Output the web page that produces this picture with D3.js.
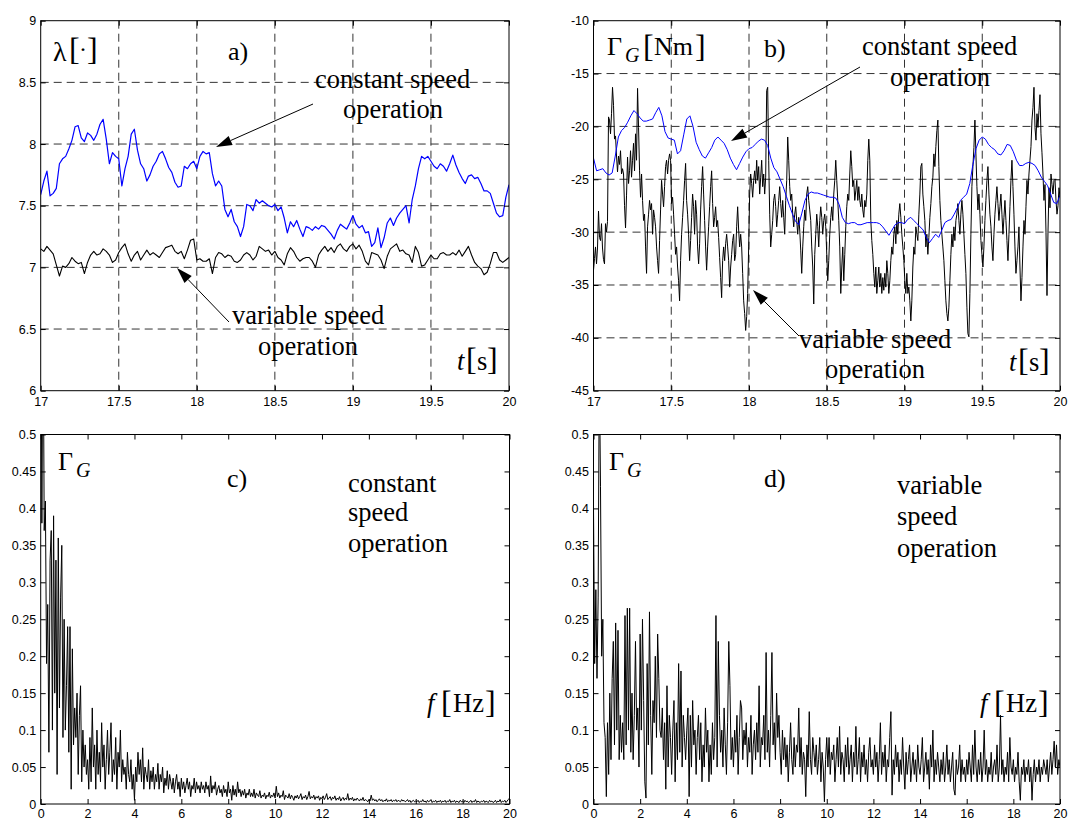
<!DOCTYPE html>
<html>
<head>
<meta charset="utf-8">
<script src="https://cdn.jsdelivr.net/npm/d3@7"></script>
<style>
  body { margin: 0; background: #fff; }
  svg { display: block; }
</style>
</head>
<body>
<svg id="fig" width="1070" height="821"></svg>
<script>
// ---- tick values ----
var tTicks = [17, 17.5, 18, 18.5, 19, 19.5, 20];
var lamTicks = [6, 6.5, 7, 7.5, 8, 8.5, 9];
var torqTicks = [-45, -40, -35, -30, -25, -20, -15, -10];
var fTicks = [0, 2, 4, 6, 8, 10, 12, 14, 16, 18, 20];
var ampTicks = [0, 0.05, 0.1, 0.15, 0.2, 0.25, 0.3, 0.35, 0.4, 0.45, 0.5];

// ---- a) tip speed ratio, sampled every 0.02 s from 17 to 20 s ----
var lamConst = [
  7.59, 7.70, 7.78, 7.58, 7.60, 7.64, 7.84, 7.88, 7.90, 7.96,
  8.03, 8.14, 8.15, 8.05, 8.02, 8.09, 8.07, 8.03, 8.08, 8.16,
  8.20, 8.04, 7.84, 7.93, 7.90, 7.88, 7.66, 7.80, 7.90, 8.08,
  8.12, 7.95, 7.84, 7.80, 7.70, 7.75, 7.82, 7.86, 7.92, 7.94,
  7.88, 7.81, 7.77, 7.69, 7.65, 7.66, 7.82, 7.80, 7.84, 7.86,
  7.80, 7.90, 7.94, 7.92, 7.93, 7.76, 7.66, 7.70, 7.66, 7.47,
  7.41, 7.47, 7.37, 7.33, 7.25, 7.33, 7.51, 7.50, 7.46, 7.55,
  7.52, 7.54, 7.52, 7.50, 7.49, 7.51, 7.46, 7.49, 7.40, 7.28,
  7.37, 7.33, 7.38, 7.31, 7.25, 7.33, 7.32, 7.30, 7.33, 7.31,
  7.34, 7.33, 7.30, 7.27, 7.23, 7.30, 7.35, 7.33, 7.31, 7.36,
  7.42, 7.35, 7.32, 7.34, 7.28, 7.29, 7.17, 7.20, 7.32, 7.16,
  7.24, 7.36, 7.40, 7.34, 7.40, 7.44, 7.47, 7.50, 7.36, 7.55,
  7.66, 7.80, 7.90, 7.88, 7.90, 7.86, 7.82, 7.80, 7.84, 7.82,
  7.78, 7.84, 7.91, 7.83, 7.77, 7.72, 7.68, 7.74, 7.75, 7.72,
  7.73, 7.68, 7.62, 7.62, 7.60, 7.52, 7.44, 7.41, 7.42, 7.57,
  7.67
];
var lamVar = [
  7.15, 7.13, 7.17, 7.14, 7.11, 7.02, 6.93, 7.01, 7.00, 7.03,
  7.08, 7.05, 7.03, 7.04, 6.95, 7.04, 7.10, 7.13, 7.10, 7.11,
  7.15, 7.13, 7.10, 7.04, 7.06, 7.12, 7.16, 7.19, 7.11, 7.05,
  7.10, 7.13, 7.06, 7.10, 7.14, 7.10, 7.12, 7.10, 7.08, 7.12,
  7.16, 7.17, 7.18, 7.13, 7.11, 7.13, 7.07, 7.14, 7.22, 7.23,
  7.06, 7.07, 7.05, 7.05, 7.07, 6.95, 7.08, 7.12, 7.11, 7.08,
  7.10, 7.09, 7.05, 7.04, 7.06, 7.10, 7.12, 7.10, 7.06, 7.09,
  7.17, 7.15, 7.13, 7.14, 7.10, 7.13, 7.08, 7.06, 7.02, 7.11,
  7.16, 7.13, 7.08, 7.05, 7.07, 7.08, 7.08, 7.05, 7.00, 7.10,
  7.14, 7.17, 7.13, 7.16, 7.12, 7.17, 7.19, 7.15, 7.13, 7.17,
  7.19, 7.15, 7.18, 7.13, 7.05, 7.02, 7.12, 7.11, 7.10, 7.06,
  6.99, 7.09, 7.15, 7.17, 7.19, 7.13, 7.14, 7.11, 7.10, 7.04,
  7.17, 7.12, 7.01, 7.02, 7.06, 7.10, 7.07, 7.07, 7.11, 7.12,
  7.10, 7.10, 7.12, 7.10, 7.14, 7.09, 7.13, 7.17, 7.10, 7.04,
  7.01, 6.99, 6.94, 6.96, 7.03, 7.12, 7.12, 7.06, 7.04, 7.06,
  7.08
];

// ---- b) generator torque [Nm] ----
// constant speed: every 0.02 s
var torqConst = [
  -23.0, -24.2, -24.1, -24.0, -24.4, -24.6, -24.4, -22.8, -21.0, -20.4,
  -20.1, -19.6, -19.0, -18.5, -18.8, -19.2, -19.5, -19.5, -19.4, -19.3,
  -18.7, -18.2, -19.0, -20.5, -21.1, -21.2, -21.3, -22.6, -22.3, -20.8,
  -19.3, -19.0, -20.0, -21.5, -22.2, -22.8, -23.0, -22.5, -22.0, -21.3,
  -21.0, -21.3, -21.6, -22.2, -23.0, -23.6, -24.1, -23.5, -22.9, -22.4,
  -22.1, -22.0, -21.7, -21.4, -21.2, -21.3, -21.8, -23.0, -23.9, -24.3,
  -25.0, -25.7, -26.6, -27.5, -28.3, -29.0, -29.3, -28.2, -27.0, -26.4,
  -26.2, -26.3, -26.3, -26.4, -26.5, -26.6, -26.7, -26.7, -26.8, -27.4,
  -28.6, -29.1, -29.2, -29.1, -29.1, -29.3, -29.3, -29.2, -29.1, -29.1,
  -29.1, -29.1, -29.2, -29.5, -29.9, -30.3, -29.8, -29.3, -29.1, -29.1,
  -29.2, -28.8, -28.6, -28.9, -29.2, -29.5, -29.8, -30.5, -31.0, -30.6,
  -30.2, -30.5, -29.8, -29.1, -28.9, -28.8, -28.3, -27.7, -27.0, -26.7,
  -26.4, -25.4, -23.6, -22.1, -21.3, -21.0, -21.2, -21.7, -22.0, -22.2,
  -22.6, -22.7, -22.3, -21.7, -21.8, -22.4, -23.2, -23.7, -23.7, -23.5,
  -23.4, -23.5, -23.7, -24.2, -24.8, -25.2, -25.6, -26.4, -27.2, -27.3,
  -26.5
];
// variable speed: evenly spaced over 17..20 s
var torqVar = [
  -33.6, -32.5, -31.4, -33.0, -31.5, -28.0, -30.5, -30.8, -29.2, -31.5,
  -32.6, -33.0, -29.2, -30.0, -29.0, -19.1, -19.4, -20.7, -18.8, -16.3,
  -18.0, -21.2, -20.9, -22.8, -24.3, -22.8, -23.6, -22.3, -24.5, -24.0,
  -24.5, -27.5, -29.6, -26.5, -22.9, -25.4,
  -24.2, -22.3, -24.8, -23.2, -21.6, -24.2, -20.7, -23.2, -16.4, -20.1,
  -24.2, -26.7, -24.5, -27.0, -28.9, -28.3, -31.4, -33.9, -29.5, -28.3,
  -27.0, -27.9, -27.3, -30.2, -27.9, -28.6, -29.5, -31.4, -32.7, -33.9,
  -30.8, -27.9, -25.1, -26.4, -27.6, -25.7, -23.8, -23.2, -24.5, -23.2,
  -22.6, -23.2, -27.3, -26.7, -28.3, -30.2, -32.1, -31.4, -33.3, -34.6,
  -36.5, -32.7, -30.2, -28.6, -27.0, -25.1, -23.5, -27.0, -28.3, -30.2,
  -32.7, -30.8, -28.6, -26.4, -27.6, -30.2, -27.0, -28.3, -31.4, -33.0,
  -31.1, -27.9, -25.7, -23.8, -26.4, -28.9, -31.4, -33.6, -31.4, -29.5,
  -27.6, -25.7, -24.2, -27.3, -29.5, -28.6, -27.6, -29.5, -28.9, -30.5,
  -32.4, -34.3, -36.2, -32.7, -31.4, -32.7, -31.1, -30.2, -31.4, -32.7,
  -35.2, -33.3, -32.1, -30.8, -30.2, -32.7, -32.1, -29.5, -27.6, -29.8,
  -31.4, -30.2, -31.4, -33.9, -36.5, -37.7, -39.3, -38.0, -35.8, -31.4,
  -26.4, -24.5, -25.4, -26.7, -25.1, -24.2, -25.4, -23.2, -25.1, -23.8,
  -26.4, -24.8, -23.2, -25.7, -24.5, -26.4, -24.8, -16.6, -16.3, -23.2,
  -28.3, -31.4, -30.2, -28.9, -27.0, -26.4, -27.6, -29.5, -28.3, -27.0,
  -25.7, -27.3, -28.6, -27.0, -28.6, -30.2, -27.0, -25.1, -21.0, -23.2,
  -25.7, -27.0, -26.4, -28.3, -29.5, -28.3, -27.6, -28.9, -30.2, -28.6,
  -29.8, -31.7, -33.9, -31.4, -29.5, -27.9, -28.9, -26.4, -25.7, -27.0,
  -27.9, -28.9, -31.4, -33.3,
  -36.8, -32.1, -30.2, -28.3, -29.5, -31.4, -28.9, -27.6, -28.6, -30.2,
  -28.9, -28.3, -29.5, -32.1, -34.6, -32.7, -30.2, -28.6, -27.6, -28.9,
  -26.4, -25.1, -23.2, -25.1, -27.0, -28.9, -31.4, -35.8, -33.3, -31.4,
  -34.6, -32.1, -29.5, -27.6, -26.4, -27.0, -24.5, -22.3, -23.8, -25.7,
  -25.1, -27.0, -26.1, -25.1, -27.0, -25.7, -27.0, -27.6, -26.4, -27.9,
  -28.6, -27.0, -27.6, -26.4, -23.2, -21.2, -23.2, -28.9, -30.8, -32.1,
  -33.9, -35.2, -33.3, -35.8, -34.6, -33.3, -35.2, -33.9, -35.8, -34.3,
  -35.5, -33.9, -35.2, -32.7, -33.9, -35.8, -34.6, -32.7, -31.4, -32.1,
  -30.2, -29.5, -31.1, -28.9, -30.2, -28.3, -27.3, -28.6, -30.2, -31.4,
  -32.7, -34.6, -35.8, -33.9, -35.8, -35.2, -36.5, -38.4, -36.5, -33.3,
  -31.4, -32.1, -29.5, -30.2, -30.8, -28.3, -26.4, -23.8, -23.5, -26.4,
  -27.6, -28.9, -31.4, -30.2, -32.1, -30.5, -28.6, -27.3, -25.7, -24.8,
  -22.6, -23.8, -21.9, -20.4, -19.4, -23.8, -27.0, -28.9, -30.2, -31.4,
  -32.7, -34.6, -36.5, -37.7, -38.4, -37.1, -34.6, -32.1, -30.2, -31.4,
  -29.5, -30.8, -28.9, -28.3, -27.3, -28.9, -30.2, -28.3, -27.0, -28.3,
  -30.2, -32.1, -33.9, -37.1, -39.6, -39.9, -35.8, -30.2, -25.7, -23.8,
  -22.0, -19.4, -22.6, -25.7, -27.9, -26.4, -28.3, -30.8, -32.1, -33.3,
  -31.4, -28.9, -27.0, -25.1, -23.8, -26.4, -28.3, -29.5, -31.4, -32.7,
  -30.2, -28.3, -27.0, -25.7, -27.3, -28.9, -27.6, -26.4, -28.3, -30.2,
  -28.6, -27.0, -28.9, -30.8, -32.7, -30.2, -27.6, -25.1, -23.2, -25.7,
  -28.3, -31.4, -33.9, -32.7, -31.4, -29.5, -33.3, -36.5, -34.3, -31.4,
  -28.9, -30.2, -27.6, -25.1, -26.4, -24.5, -23.2, -21.9, -19.4, -18.2,
  -16.3, -20.1, -21.3, -18.8, -20.1,
  -18.5, -17.0, -20.7, -22.5, -24.5, -27.0, -25.5, -30.0, -36.0, -30.0,
  -25.8, -27.7, -24.5, -25.5, -26.4, -25.1, -25.0, -27.0, -28.3, -27.5,
  -25.8, -26.7
];

// ---- c), d) torque spectra, every 0.05 Hz from 0 to 20 Hz ----
var specConst = [
  0.80, 0.38, 0.70, 0.37, 0.41, 0.19, 0.27, 0.07, 0.33, 0.37, 0.10, 0.39, 0.15, 0.33, 0.04, 0.36, 0.13, 0.28, 0.35, 0.09,
  0.25, 0.10, 0.16, 0.24, 0.07, 0.24, 0.02, 0.21, 0.08, 0.13, 0.09, 0.15, 0.04, 0.12, 0.16, 0.03, 0.10, 0.05, 0.08, 0.04,
  0.06, 0.02, 0.09, 0.03, 0.13, 0.05, 0.08, 0.02, 0.10, 0.04, 0.07, 0.03, 0.11, 0.05, 0.08, 0.02, 0.06, 0.10, 0.04, 0.07,
  0.11, 0.03, 0.06, 0.04, 0.09, 0.02, 0.07, 0.05, 0.10, 0.03, 0.06, 0.04, 0.05, 0.02, 0.07, 0.04, 0.03, 0.06, 0.02, 0.04,
  0.005, 0.05, 0.03, 0.07, 0.04, 0.06, 0.03, 0.076, 0.02, 0.05, 0.04, 0.03, 0.06, 0.02, 0.045, 0.03, 0.05, 0.02, 0.04, 0.03,
  0.055, 0.02, 0.04, 0.03, 0.05, 0.015, 0.035, 0.025, 0.045, 0.02, 0.04, 0.03, 0.02, 0.035, 0.015, 0.03, 0.04, 0.02, 0.03, 0.01,
  0.035, 0.02, 0.03, 0.015, 0.025, 0.035, 0.02, 0.03, 0.01, 0.025, 0.02, 0.035, 0.015, 0.03, 0.02, 0.025, 0.015, 0.03, 0.02, 0.025,
  0.015, 0.03, 0.02, 0.025, 0.01, 0.038, 0.015, 0.025, 0.02, 0.03, 0.012, 0.02, 0.025, 0.015, 0.02, 0.01, 0.025, 0.015, 0.02, 0.01,
  0.03, 0.015, 0.02, 0.005, 0.025, 0.012, 0.02, 0.01, 0.03, 0.015, 0.02, 0.01, 0.018, 0.012, 0.02, 0.008, 0.015, 0.012, 0.02, 0.01,
  0.015, 0.01, 0.02, 0.008, 0.015, 0.012, 0.01, 0.018, 0.008, 0.012, 0.01, 0.015, 0.007, 0.012, 0.01, 0.016, 0.008, 0.012, 0.01, 0.015,
  0.008, 0.024, 0.01, 0.015, 0.008, 0.012, 0.01, 0.018, 0.006, 0.012, 0.01, 0.008, 0.014, 0.007, 0.012, 0.009, 0.005, 0.011, 0.008, 0.012,
  0.007, 0.01, 0.014, 0.006, 0.01, 0.008, 0.012, 0.006, 0.01, 0.017, 0.007, 0.01, 0.008, 0.012, 0.006, 0.01, 0.008, 0.011, 0.005, 0.009,
  0.007, 0.011, 0.006, 0.009, 0.014, 0.006, 0.008, 0.01, 0.005, 0.009, 0.007, 0.011, 0.005, 0.008, 0.006, 0.01, 0.004, 0.007, 0.009, 0.005,
  0.008, 0.006, 0.014, 0.005, 0.008, 0.006, 0.009, 0.004, 0.007, 0.005, 0.008, 0.006, 0.004, 0.007, 0.005, 0.009, 0.004, 0.006, 0.005, 0.003,
  0.006, 0.004, 0.012, 0.005, 0.007, 0.004, 0.006, 0.003, 0.005, 0.007, 0.004, 0.006, 0.003, 0.005, 0.004, 0.007, 0.003, 0.005, 0.004, 0.006,
  0.003, 0.005, 0.004, 0.006, 0.003, 0.005, 0.004, 0.003, 0.006, 0.004, 0.005, 0.003, 0.004, 0.006, 0.003, 0.005, 0.002, 0.004, 0.005, 0.003,
  0.004, 0.003, 0.005, 0.002, 0.004, 0.003, 0.006, 0.003, 0.004, 0.002, 0.005, 0.003, 0.004, 0.006, 0.002, 0.004, 0.003, 0.005, 0.002, 0.004,
  0.003, 0.005, 0.002, 0.004, 0.003, 0.005, 0.002, 0.004, 0.003, 0.006, 0.002, 0.004, 0.003, 0.005, 0.002, 0.004, 0.003, 0.002, 0.005, 0.003,
  0.004, 0.002, 0.005, 0.003, 0.004, 0.002, 0.003, 0.005, 0.002, 0.004, 0.003, 0.006, 0.002, 0.004, 0.003, 0.002, 0.004, 0.003, 0.005, 0.002,
  0.004, 0.003, 0.002, 0.005, 0.003, 0.004, 0.002, 0.003, 0.005, 0.002, 0.004, 0.003, 0.006, 0.002, 0.004, 0.003, 0.005, 0.002, 0.004, 0.006, 0.008
];
var specVar = [
  0.40, 0.19, 0.29, 0.17, 0.28, 0.60, 0.43, 0.20, 0.25, 0.11, 0.09, 0.01, 0.11, 0.04, 0.15, 0.06, 0.17, 0.22, 0.08, 0.245,
  0.10, 0.235, 0.06, 0.12, 0.07, 0.11, 0.06, 0.255, 0.08, 0.265, 0.10, 0.265, 0.07, 0.15, 0.06, 0.12, 0.22, 0.10, 0.13, 0.05,
  0.23, 0.10, 0.25, 0.14, 0.03, 0.008, 0.19, 0.08, 0.26, 0.12, 0.04, 0.14, 0.11, 0.20, 0.09, 0.23, 0.17, 0.10, 0.09, 0.13,
  0.06, 0.11, 0.02, 0.16, 0.05, 0.12, 0.09, 0.04, 0.10, 0.14, 0.03, 0.11, 0.06, 0.19, 0.07, 0.18, 0.05, 0.12, 0.09, 0.06,
  0.10, 0.13, 0.01, 0.12, 0.05, 0.14, 0.08, 0.10, 0.04, 0.09, 0.12, 0.06, 0.11, 0.03, 0.08, 0.05, 0.13, 0.07, 0.10, 0.03,
  0.08, 0.04, 0.11, 0.06, 0.09, 0.255, 0.05, 0.22, 0.12, 0.07, 0.10, 0.05, 0.13, 0.08, 0.04, 0.11, 0.22, 0.16, 0.06, 0.09,
  0.05, 0.10, 0.07, 0.12, 0.04, 0.09, 0.14, 0.13, 0.06, 0.10, 0.08, 0.11, 0.05, 0.09, 0.07, 0.12, 0.04, 0.08, 0.10, 0.06,
  0.11, 0.07, 0.16, 0.05, 0.09, 0.08, 0.12, 0.06, 0.205, 0.07, 0.10, 0.05, 0.12, 0.205, 0.08, 0.11, 0.06, 0.15, 0.09, 0.12,
  0.07, 0.04, 0.10, 0.06, 0.09, 0.05, 0.08, 0.03, 0.07, 0.11, 0.06, 0.04, 0.09, 0.05, 0.08, 0.07, 0.13, 0.05, 0.09, 0.04,
  0.07, 0.06, 0.01, 0.08, 0.05, 0.125, 0.06, 0.04, 0.09, 0.07, 0.05, 0.08, 0.04, 0.06, 0.09, 0.03, 0.07, 0.05, 0.003, 0.06,
  0.09, 0.05, 0.09, 0.04, 0.07, 0.06, 0.08, 0.03, 0.06, 0.09, 0.05, 0.105, 0.04, 0.07, 0.06, 0.03, 0.08, 0.05, 0.09, 0.04,
  0.06, 0.08, 0.03, 0.07, 0.05, 0.105, 0.04, 0.06, 0.09, 0.03, 0.07, 0.05, 0.08, 0.04, 0.06, 0.03, 0.07, 0.09, 0.05, 0.06,
  0.04, 0.08, 0.05, 0.07, 0.03, 0.06, 0.11, 0.04, 0.07, 0.05, 0.08, 0.03, 0.06, 0.05, 0.09, 0.125, 0.012, 0.06, 0.04, 0.08,
  0.05, 0.07, 0.03, 0.06, 0.04, 0.09, 0.05, 0.02, 0.07, 0.04, 0.06, 0.08, 0.03, 0.05, 0.07, 0.04, 0.06, 0.03, 0.08, 0.05,
  0.04, 0.06, 0.09, 0.03, 0.05, 0.07, 0.04, 0.06, 0.02, 0.08, 0.05, 0.10, 0.03, 0.06, 0.04, 0.07, 0.05, 0.03, 0.06, 0.04,
  0.07, 0.03, 0.05, 0.08, 0.04, 0.06, 0.03, 0.05, 0.07, 0.02, 0.012, 0.06, 0.04, 0.05, 0.08, 0.03, 0.06, 0.04, 0.05, 0.03,
  0.06, 0.04, 0.07, 0.05, 0.03, 0.08, 0.04, 0.10, 0.05, 0.03, 0.06, 0.04, 0.07, 0.03, 0.05, 0.10, 0.04, 0.06, 0.03, 0.05,
  0.04, 0.07, 0.03, 0.05, 0.06, 0.04, 0.08, 0.03, 0.05, 0.12, 0.04, 0.06, 0.03, 0.05, 0.04, 0.07, 0.03, 0.09, 0.05, 0.04,
  0.06, 0.03, 0.05, 0.04, 0.07, 0.03, 0.005, 0.05, 0.04, 0.06, 0.03, 0.05, 0.04, 0.06, 0.03, 0.05, 0.005, 0.04, 0.06, 0.03,
  0.05, 0.04, 0.06, 0.03, 0.05, 0.04, 0.06, 0.05, 0.04, 0.06, 0.03, 0.05, 0.07, 0.04, 0.06, 0.085, 0.05, 0.08, 0.04, 0.06, 0.05
];

var svg = d3.select("#fig");
var defs = svg.append("defs");
var serif = "'Liberation Serif', 'Times New Roman', Times, serif";

// layout of the four axes boxes
var panels = [
  { id: "a", left: 40.7, right: 509, top: 20.7, bottom: 390.7, xDomain: [17, 20], yDomain: [6, 9],
    xTicks: tTicks, yTicks: lamTicks, grid: true, xPad: 6.5,
    series: [{ values: lamVar, color: "#000", width: 1.1 }, { values: lamConst, color: "#0000ff", width: 1.2 }] },
  { id: "b", left: 593.5, right: 1060, top: 20.7, bottom: 390.7, xDomain: [17, 20], yDomain: [-45, -10],
    xTicks: tTicks, yTicks: torqTicks, grid: true, xPad: 6.5,
    series: [{ values: torqVar, color: "#000", width: 1 }, { values: torqConst, color: "#0000ff", width: 1 }] },
  { id: "c", left: 40.7, right: 509.5, top: 434.5, bottom: 804, xDomain: [0, 20], yDomain: [0, 0.5],
    xTicks: fTicks, yTicks: ampTicks, grid: false, xPad: 5.5,
    series: [{ values: specConst, color: "#000", width: 1 }] },
  { id: "d", left: 593.5, right: 1060, top: 434.5, bottom: 804, xDomain: [0, 20], yDomain: [0, 0.5],
    xTicks: fTicks, yTicks: ampTicks, grid: false, xPad: 5.5,
    series: [{ values: specVar, color: "#000", width: 1 }] }
];

function fmt(d) {
  return String(Math.round(d * 100) / 100);
}

function styleAxis(g) {
  g.select(".domain").remove();
  g.attr("font-family", "'Liberation Sans', Arial, sans-serif").attr("font-size", 12.5);
  g.selectAll(".tick text").attr("fill", "#000");
  g.selectAll(".tick line").attr("stroke", "#000");
}

function drawPanel(p) {
  var g = svg.append("g").attr("id", "panel-" + p.id);
  var x = d3.scaleLinear().domain(p.xDomain).range([p.left, p.right]);
  var y = d3.scaleLinear().domain(p.yDomain).range([p.bottom, p.top]);

  defs.append("clipPath").attr("id", "clip-" + p.id)
    .append("rect")
    .attr("x", p.left).attr("y", p.top)
    .attr("width", p.right - p.left).attr("height", p.bottom - p.top);

  if (p.grid) {
    g.selectAll(".gx").data(p.xTicks.slice(1, -1)).join("line")
      .attr("class", "gx")
      .attr("x1", d => x(d)).attr("x2", d => x(d))
      .attr("y1", p.top).attr("y2", p.bottom)
      .attr("stroke", "#333").attr("stroke-width", 1).attr("stroke-dasharray", "8,5");
    g.selectAll(".gy").data(p.yTicks.slice(1, -1)).join("line")
      .attr("class", "gy")
      .attr("x1", p.left).attr("x2", p.right)
      .attr("y1", d => y(d)).attr("y2", d => y(d))
      .attr("stroke", "#333").attr("stroke-width", 1).attr("stroke-dasharray", "8,5");
  }

  p.series.forEach(function (s) {
    var n = s.values.length;
    var step = (p.xDomain[1] - p.xDomain[0]) / (n - 1);
    var line = d3.line()
      .x((d, i) => x(p.xDomain[0] + i * step))
      .y(d => y(d));
    g.append("path")
      .datum(s.values)
      .attr("clip-path", "url(#clip-" + p.id + ")")
      .attr("fill", "none")
      .attr("stroke", s.color)
      .attr("stroke-width", s.width)
      .attr("stroke-linejoin", "round")
      .attr("d", line);
  });

  g.append("g").attr("transform", "translate(0," + p.bottom + ")")
    .call(d3.axisBottom(x).tickValues(p.xTicks).tickFormat(fmt)
      .tickSizeInner(-5).tickSizeOuter(0).tickPadding(p.xPad))
    .call(styleAxis);
  g.append("g").attr("transform", "translate(0," + p.top + ")")
    .call(d3.axisTop(x).tickValues(p.xTicks).tickFormat("")
      .tickSizeInner(-5).tickSizeOuter(0))
    .call(styleAxis);
  g.append("g").attr("transform", "translate(" + p.left + ",0)")
    .call(d3.axisLeft(y).tickValues(p.yTicks).tickFormat(fmt)
      .tickSizeInner(-5).tickSizeOuter(0).tickPadding(4.5))
    .call(styleAxis);
  g.append("g").attr("transform", "translate(" + p.right + ",0)")
    .call(d3.axisRight(y).tickValues(p.yTicks).tickFormat("")
      .tickSizeInner(-5).tickSizeOuter(0))
    .call(styleAxis);

  g.append("rect")
    .attr("x", p.left).attr("y", p.top)
    .attr("width", p.right - p.left).attr("height", p.bottom - p.top)
    .attr("fill", "none").attr("stroke", "#000").attr("stroke-width", 1);
}

panels.forEach(drawPanel);

// ---- annotations ----
var ann = svg.append("g");

function txt(s, x, y, size, italic) {
  ann.append("text")
    .attr("x", x).attr("y", y)
    .attr("font-family", serif)
    .attr("font-size", size)
    .attr("font-style", italic ? "italic" : "normal")
    .attr("fill", "#000")
    .text(s);
}

function arrow(x1, y1, x2, y2) {
  var dx = x2 - x1, dy = y2 - y1;
  var len = Math.sqrt(dx * dx + dy * dy);
  var ux = dx / len, uy = dy / len;
  var hl = 16, hw = 5;
  var bx = x2 - ux * hl, by = y2 - uy * hl;
  ann.append("line")
    .attr("x1", x1).attr("y1", y1).attr("x2", bx).attr("y2", by)
    .attr("stroke", "#000").attr("stroke-width", 1);
  ann.append("path")
    .attr("d", "M" + x2 + "," + y2 +
      "L" + (bx - uy * hw) + "," + (by + ux * hw) +
      "L" + (bx + uy * hw) + "," + (by - ux * hw) + "Z")
    .attr("fill", "#000");
}

// a)
txt("λ", 53, 61, 28);
txt("[", 69, 60, 32);
txt("·", 79, 57, 24);
txt("]", 87, 60, 32);
txt("a)", 228, 60, 26);
txt("constant speed", 315, 88, 26.5);
txt("operation", 343, 118, 26.5);
arrow(313, 104, 216, 147);
txt("variable speed", 232, 324, 26.5);
txt("operation", 258, 355, 26.5);
arrow(229, 322, 177, 268);
txt("t", 457, 370, 26.5, true);
txt("[", 466, 370, 32);
txt("s", 477, 370, 26.5);
txt("]", 487, 370, 32);

// b)
txt("Γ", 607, 55, 26);
txt("G", 625, 62, 20, true);
txt("[", 643, 57, 32);
txt("Nm", 654, 55, 26);
txt("]", 695, 57, 32);
txt("b)", 764, 57, 26);
txt("constant speed", 862, 55, 26.5);
txt("operation", 890, 86, 26.5);
arrow(860, 67, 731, 141);
txt("variable speed", 799, 348, 26.5);
txt("operation", 825, 378, 26.5);
arrow(799, 336, 753, 290);
txt("t", 1009, 371, 26.5, true);
txt("[", 1018, 371, 32);
txt("s", 1029, 371, 26.5);
txt("]", 1039, 371, 32);

// c)
txt("Γ", 58, 470, 26);
txt("G", 76, 477, 20, true);
txt("c)", 227, 487, 26);
txt("constant", 348, 492, 26.5);
txt("speed", 348, 521, 26.5);
txt("operation", 348, 552, 26.5);
txt("f", 427, 712, 26.5, true);
txt("[", 441, 713, 32);
txt("Hz", 453, 712, 26.5);
txt("]", 485, 713, 32);

// d)
txt("Γ", 609, 470, 26);
txt("G", 627, 477, 20, true);
txt("d)", 764, 487, 26);
txt("variable", 897, 494, 26.5);
txt("speed", 897, 525, 26.5);
txt("operation", 897, 557, 26.5);
txt("f", 980, 712, 26.5, true);
txt("[", 994, 713, 32);
txt("Hz", 1006, 712, 26.5);
txt("]", 1038, 713, 32);
</script>
</body>
</html>
